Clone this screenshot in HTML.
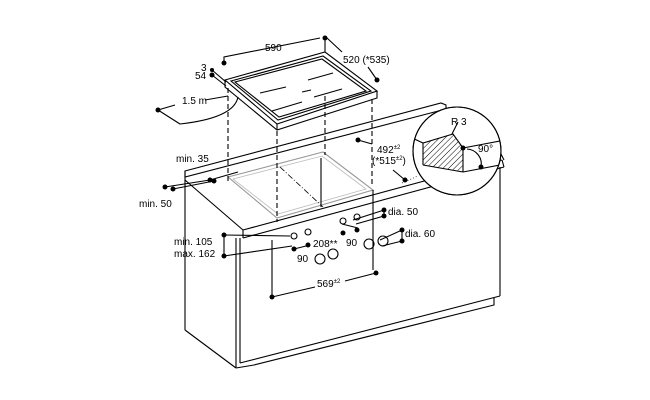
<!DOCTYPE html>
<html><head><style>html,body{margin:0;padding:0;background:#fff}svg{display:block}text{font-family:"Liberation Sans",sans-serif;font-size:10px;fill:#000}</style></head>
<body>
<svg width="650" height="400" viewBox="0 0 650 400" xmlns="http://www.w3.org/2000/svg">
<defs>
<pattern id="h" width="4" height="4" patternUnits="userSpaceOnUse" patternTransform="rotate(45)"><line x1="0" y1="0" x2="0" y2="4" stroke="#000" stroke-width="1"/></pattern>
<clipPath id="c"><circle cx="457" cy="151" r="44"/></clipPath>
</defs>
<g fill="none" stroke="#000" stroke-width="1.1">
<!-- cooktop -->
<polygon points="225,80 325,52 377,91 277,124" fill="#fff"/>
<polyline points="225,80 225,87 277,130 377,98 377,91"/>
<line x1="277" y1="124" x2="277" y2="130"/>
<polygon points="231,81 323,56 371,91 278,120"/>
<polygon points="235,82 322,59 366,91 279,117"/>
<line x1="260" y1="93" x2="286" y2="87"/><line x1="308" y1="80" x2="333" y2="73"/>
<line x1="272" y1="111" x2="302" y2="102"/><line x1="302" y1="92" x2="311" y2="90"/><line x1="314" y1="97" x2="342" y2="89"/>
<!-- backsplash strip -->
<polygon points="185,171 441,103 446,105 446,109 185,177" fill="#fff"/>
<line x1="185" y1="171" x2="185" y2="330"/>
<!-- counter top -->
<line x1="185" y1="180" x2="243" y2="230"/>
<line x1="243" y1="230" x2="502" y2="160"/>
<line x1="243" y1="230" x2="243" y2="238"/>
<line x1="243" y1="238" x2="504" y2="167"/>
<line x1="502" y1="160" x2="504" y2="167"/>
<line x1="446" y1="109" x2="500" y2="152"/>
<line x1="500" y1="152" x2="504" y2="160"/>
<!-- cutout -->
<polygon points="228,177 323,152 373,190 277,218" stroke="#999"/>
<polygon points="233,179 322,156 366,189 278,214" stroke="#bbb" stroke-width="0.8"/>
<line x1="321" y1="158" x2="321" y2="207"/>
<line x1="280" y1="167" x2="323" y2="207" stroke-dasharray="6,2,1,2" stroke-width="0.8"/>
<!-- cabinet -->
<line x1="185" y1="330" x2="236" y2="368"/>
<line x1="236" y1="238" x2="236" y2="368"/>
<line x1="240" y1="238" x2="240" y2="363"/>
<line x1="500" y1="167" x2="500" y2="296"/>
<line x1="240" y1="363" x2="500" y2="296"/>
<polyline points="236,368 254,365 494,305 494,298"/>
<!-- dashed projection -->
<g stroke-dasharray="5,3"><line x1="228" y1="88" x2="228" y2="183"/><line x1="277" y1="131" x2="277" y2="222"/><line x1="325" y1="96" x2="325" y2="155"/><line x1="372" y1="99" x2="372" y2="186"/></g>
<line x1="373" y1="190" x2="373" y2="270"/>
<!-- dims -->
<polyline points="224,63 224,57 320,38"/><line x1="325" y1="38" x2="325" y2="52"/>
<line x1="327" y1="38" x2="342" y2="52"/><line x1="368" y1="67" x2="377" y2="80"/>
<line x1="212" y1="70" x2="226" y2="82"/><line x1="212" y1="75" x2="226" y2="86"/>
<line x1="158" y1="110" x2="175" y2="105"/><line x1="205" y1="100" x2="228" y2="96"/>
<path d="M158,110 L180,124 Q234,118 238,97"/>
<line x1="358" y1="140" x2="372" y2="144"/><line x1="393" y1="170" x2="405" y2="180"/>
<line x1="402" y1="183" x2="418" y2="176" stroke-dasharray="1,2" stroke-width="0.7"/>
<line x1="210" y1="180" x2="238" y2="172"/><line x1="165" y1="187" x2="210" y2="180"/>
<line x1="173" y1="189" x2="214" y2="181"/>
<line x1="224" y1="235" x2="224" y2="256"/><line x1="224" y1="235" x2="290" y2="236"/><line x1="224" y1="256" x2="292" y2="246"/>
<line x1="272" y1="297" x2="272" y2="240"/><line x1="272" y1="297" x2="315" y2="287"/><line x1="345" y1="281" x2="376" y2="273"/>
<line x1="384" y1="210" x2="384" y2="216"/><line x1="353" y1="220" x2="384" y2="210"/><line x1="356" y1="224" x2="384" y2="216"/>
<line x1="402" y1="230" x2="402" y2="241"/><line x1="380" y1="240" x2="402" y2="230"/><line x1="382" y1="246" x2="402" y2="241"/>
<line x1="294" y1="249" x2="310" y2="245"/><line x1="342" y1="224" x2="358" y2="228"/>
<!-- pipes -->
<circle cx="294" cy="236" r="3"/><circle cx="308" cy="232" r="3"/>
<circle cx="343" cy="221" r="3"/><circle cx="357" cy="217" r="3"/>
<circle cx="320" cy="259" r="5"/><circle cx="333" cy="254" r="5"/>
<circle cx="369" cy="244" r="5"/><circle cx="383" cy="241" r="5"/>
<!-- detail circle -->
<circle cx="457" cy="151" r="44" fill="#fff"/>
<g clip-path="url(#c)">
<polygon points="423,143 453,134 463,148 463,172 423,165" fill="url(#h)" stroke="none"/>
<polyline points="410,137 423,143 453,134 463,148"/>
<line x1="423" y1="143" x2="423" y2="165"/>
<line x1="423" y1="165" x2="463" y2="172"/>
<line x1="463" y1="148" x2="463" y2="172"/>
<line x1="463" y1="148" x2="505" y2="140"/><line x1="463" y1="172" x2="505" y2="164"/>
<path d="M467,149 A15,15 0 0 1 481,167"/>
</g>
<circle cx="457" cy="151" r="44"/>
<line x1="452" y1="134" x2="458" y2="122"/>
</g>
<g fill="#000">
<circle cx="224" cy="63" r="2.5"/><circle cx="325" cy="38" r="2.5"/><circle cx="377" cy="80" r="2.5"/>
<circle cx="212" cy="70" r="2"/><circle cx="212" cy="75" r="2.5"/><circle cx="158" cy="110" r="2.5"/>
<circle cx="358" cy="140" r="2.5"/><circle cx="405" cy="180" r="2.5"/>
<circle cx="165" cy="187" r="2.5"/><circle cx="210" cy="180" r="2.5"/><circle cx="214" cy="181" r="2.5"/><circle cx="173" cy="189" r="2.5"/>
<circle cx="224" cy="235" r="2.5"/><circle cx="224" cy="256" r="2.5"/>
<circle cx="272" cy="297" r="2.5"/><circle cx="376" cy="273" r="2.5"/>
<circle cx="384" cy="210" r="2.5"/><circle cx="384" cy="216" r="2.5"/><circle cx="402" cy="230" r="2.5"/><circle cx="402" cy="241" r="2.5"/>
<circle cx="294" cy="249" r="2.5"/><circle cx="308" cy="245" r="2.5"/><circle cx="343" cy="233" r="2.5"/><circle cx="357" cy="230" r="2.5"/>
<circle cx="463" cy="148" r="2.5"/><circle cx="481" cy="167" r="2.5"/>
</g>
<text x="265" y="51">590</text>
<text x="343" y="63">520 (*535)</text>
<text x="201" y="71">3</text><text x="195" y="79">54</text>
<text x="182" y="104">1.5 m</text>
<text x="377" y="153">492<tspan font-size="6" dy="-4">±2</tspan></text>
<text x="372" y="164">(*515<tspan font-size="6" dy="-4">±2</tspan><tspan dy="4">)</tspan></text>
<text x="176" y="162">min. 35</text>
<text x="139" y="207">min. 50</text>
<text x="174" y="245">min. 105</text><text x="174" y="257">max. 162</text>
<text x="313" y="247">208**</text>
<text x="346" y="246">90</text><text x="297" y="262">90</text>
<text x="388" y="215">dia. 50</text><text x="405" y="237">dia. 60</text>
<text x="317" y="287">569<tspan font-size="6" dy="-4">±2</tspan></text>
<text x="451" y="125">R 3</text><text x="478" y="152">90°</text>
</svg>
</body></html>
